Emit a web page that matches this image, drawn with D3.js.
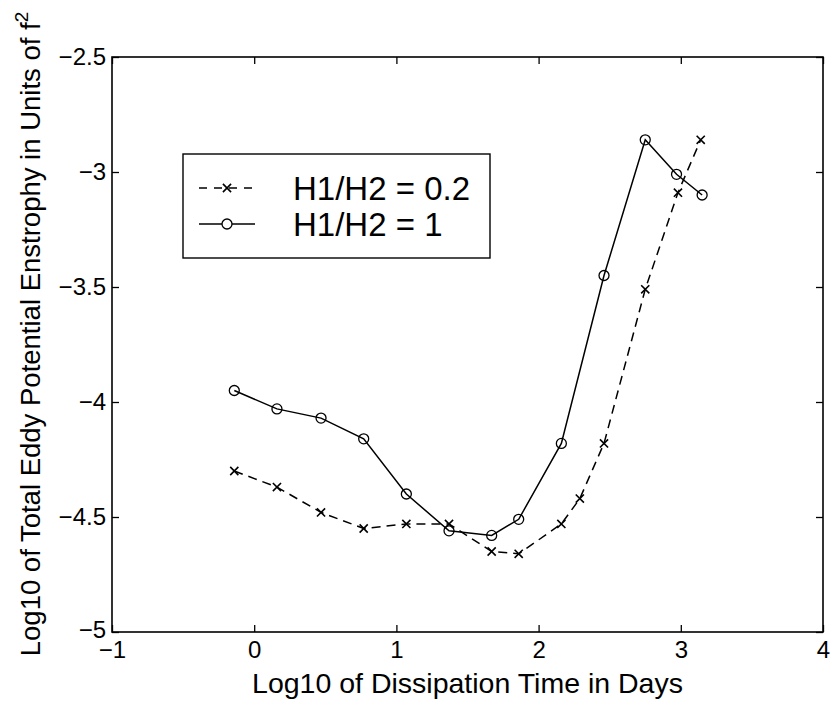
<!DOCTYPE html>
<html>
<head>
<meta charset="utf-8">
<script src="https://cdn.jsdelivr.net/npm/d3@7"></script>
<style>
  body { margin: 0; background: #fff; }
  svg { display: block; font-family: "Liberation Sans", Arial, Helvetica, sans-serif; }
</style>
</head>
<body>
<svg id="chart" width="832" height="702"></svg>
<script>
// values
const logTimeA = [-0.14, 0.16, 0.47, 0.77, 1.07, 1.37, 1.67, 1.86, 2.16, 2.29, 2.46, 2.75, 2.98, 3.14];
const enstrophyA = [-4.30, -4.37, -4.48, -4.55, -4.53, -4.53, -4.65, -4.66, -4.53, -4.42, -4.18, -3.51, -3.09, -2.86];
const logTimeB = [-0.14, 0.16, 0.47, 0.77, 1.07, 1.37, 1.67, 1.86, 2.16, 2.46, 2.75, 2.97, 3.15];
const enstrophyB = [-3.95, -4.03, -4.07, -4.16, -4.40, -4.56, -4.58, -4.51, -4.18, -3.45, -2.86, -3.01, -3.10];
const xTicks = [-1, 0, 1, 2, 3, 4];
const yTicks = [-5, -4.5, -4, -3.5, -3, -2.5];
const seriesLabels = ["H1/H2 = 0.2", "H1/H2 = 1"];

const svg = d3.select("#chart");
const box = { left: 112, right: 823, top: 57, bottom: 632 };

const x = d3.scaleLinear().domain([-1, 4]).range([box.left, box.right]);
const y = d3.scaleLinear().domain([-5, -2.5]).range([box.bottom, box.top]);

const fmt = d => String(d).replace("-", "\u2212");
const tickLen = 7;

// axes (ticks point inward, box on)
svg.append("g")
  .attr("transform", `translate(0,${box.bottom})`)
  .call(d3.axisBottom(x).tickValues(xTicks).tickFormat(fmt).tickSizeInner(-tickLen).tickSizeOuter(0).tickPadding(9));
svg.append("g")
  .attr("transform", `translate(0,${box.top})`)
  .call(d3.axisTop(x).tickValues(xTicks).tickFormat("").tickSizeInner(-tickLen).tickSizeOuter(0));
const gy = svg.append("g")
  .attr("transform", `translate(${box.left},0)`)
  .call(d3.axisLeft(y).tickValues(yTicks).tickFormat(fmt).tickSizeInner(-tickLen).tickSizeOuter(0).tickPadding(6));
svg.append("g")
  .attr("transform", `translate(${box.right},0)`)
  .call(d3.axisRight(y).tickValues(yTicks).tickFormat("").tickSizeInner(-tickLen).tickSizeOuter(0));

svg.selectAll(".domain").remove();
svg.selectAll(".tick line").attr("stroke", "#000").attr("stroke-width", 1.3);
svg.selectAll(".tick text")
  .attr("fill", "#000")
  .attr("font-size", 24)
  .attr("font-family", "'Liberation Sans', Arial, sans-serif");
// lowest y label sits just above the -1 x label, as in the original
gy.selectAll(".tick text").filter(d => d === -5).attr("dy", "0.22em");

svg.append("rect")
  .attr("x", box.left)
  .attr("y", box.top)
  .attr("width", box.right - box.left)
  .attr("height", box.bottom - box.top)
  .attr("fill", "none")
  .attr("stroke", "#000")
  .attr("stroke-width", 1.6);

// axis titles
svg.append("text")
  .attr("x", (box.left + box.right) / 2)
  .attr("y", 693)
  .attr("text-anchor", "middle")
  .attr("font-size", 28.5)
  .text("Log10 of Dissipation Time in Days");

const yTitle = svg.append("text")
  .attr("transform", "rotate(-90)")
  .attr("x", -334)
  .attr("y", 40)
  .attr("text-anchor", "middle")
  .attr("font-size", 27.5);
yTitle.append("tspan").text("Log10 of Total Eddy Potential Enstrophy in Units of f");
yTitle.append("tspan").attr("font-size", 19).attr("dy", -12).text("2");

// data lines
const seriesA = logTimeA.map((t, i) => ({ t, v: enstrophyA[i] }));
const seriesB = logTimeB.map((t, i) => ({ t, v: enstrophyB[i] }));

const line = d3.line().x(d => x(d.t)).y(d => y(d.v));

svg.append("path")
  .datum(seriesA)
  .attr("d", line)
  .attr("fill", "none")
  .attr("stroke", "#000")
  .attr("stroke-width", 1.5)
  .attr("stroke-dasharray", "9,6");

svg.append("path")
  .datum(seriesB)
  .attr("d", line)
  .attr("fill", "none")
  .attr("stroke", "#000")
  .attr("stroke-width", 1.5);

const cross = d3.symbol().type(d3.symbolX).size(45);

svg.append("g").selectAll("path")
  .data(seriesA)
  .join("path")
    .attr("transform", d => `translate(${x(d.t)},${y(d.v)})`)
    .attr("d", cross)
    .attr("fill", "none")
    .attr("stroke", "#000")
    .attr("stroke-width", 1.6);

svg.append("g").selectAll("circle")
  .data(seriesB)
  .join("circle")
    .attr("cx", d => x(d.t))
    .attr("cy", d => y(d.v))
    .attr("r", 5)
    .attr("fill", "none")
    .attr("stroke", "#000")
    .attr("stroke-width", 1.3);

// legend
const legend = svg.append("g").attr("class", "legend");
legend.append("rect")
  .attr("x", 183)
  .attr("y", 154)
  .attr("width", 307)
  .attr("height", 104)
  .attr("fill", "#fff")
  .attr("stroke", "#000")
  .attr("stroke-width", 1.4);

const rows = [
  { label: seriesLabels[0], dash: "8,7", marker: "x" },
  { label: seriesLabels[1], dash: null, marker: "o" }
];

const legendRows = legend.selectAll("g.row")
  .data(rows)
  .join("g")
    .attr("class", "row")
    .attr("transform", (d, i) => `translate(0,${188 + i * 36})`);

legendRows.append("line")
  .attr("x1", 199)
  .attr("x2", 255)
  .attr("stroke", "#000")
  .attr("stroke-width", 1.4)
  .attr("stroke-dasharray", d => d.dash);

legendRows.filter(d => d.marker === "x").append("path")
  .attr("transform", "translate(227,0)")
  .attr("d", cross)
  .attr("fill", "#fff")
  .attr("stroke", "#000")
  .attr("stroke-width", 1.6);

legendRows.filter(d => d.marker === "o").append("circle")
  .attr("cx", 227)
  .attr("r", 5)
  .attr("fill", "#fff")
  .attr("stroke", "#000")
  .attr("stroke-width", 1.3);

legendRows.append("text")
  .attr("x", 293)
  .attr("dy", "0.36em")
  .attr("font-size", 33)
  .text(d => d.label);
</script>
</body>
</html>
